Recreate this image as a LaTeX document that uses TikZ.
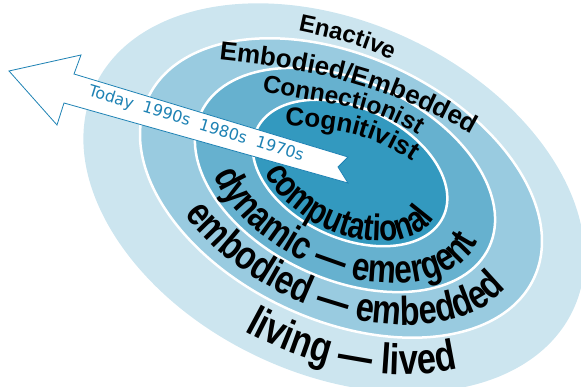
\documentclass[tikz,border=0pt]{standalone}
\usepackage{fontspec}
\setmainfont{Liberation Sans}
\newfontfamily\ringfont{Liberation Sans}[FakeStretch=0.8]
\newfontfamily\datefont{DejaVu Sans}
\usetikzlibrary{decorations.text}

\definecolor{enactive}{HTML}{CCE5EF}
\definecolor{embodied}{HTML}{99CBE0}
\definecolor{connect}{HTML}{66B1CF}
\definecolor{cognit}{HTML}{3399BF}
\definecolor{timeline}{HTML}{1E82B4}

\begin{document}
\begin{tikzpicture}[x=1pt,y=1pt]

	\tikzset{ring st/.style={fill=#1, draw=white, line width=2.5pt},
		upper text/.style 2 args={decorate, decoration={text along path,
				text={|\bfseries\fontsize{#1}{#1}\selectfont|#2}}},
		lower text/.style 2 args={decorate, decoration={text along path,
				text={|\ringfont\bfseries\fontsize{#1}{#1}\selectfont|#2}}}}

	\useasboundingbox (0,0) rectangle (581,387);
	\clip (0,0) rectangle (581,387);

	% the four rings, outside in
	\begin{scope}[shift={(334,189)}, rotate=-25]
		\fill[enactive] (0,0) ellipse [x radius=264, y radius=176];
	\end{scope}
	\begin{scope}[shift={(341,199)}, rotate=-25]
		\draw[ring st=embodied] (0,0) ellipse [x radius=213, y radius=132];
	\end{scope}
	\begin{scope}[shift={(345,207)}, rotate=-25]
		\draw[ring st=connect] (0,0) ellipse [x radius=159, y radius=99];
	\end{scope}
	\begin{scope}[shift={(350,214)}, rotate=-25]
		\draw[ring st=cognit] (0,0) ellipse [x radius=103, y radius=65];
	\end{scope}

	% time arrow
	\coordinate (tip) at (9,316);
	\coordinate (barb up) at (81,332);
	\coordinate (shaft up) at (74,313);
	\coordinate (tail up) at (348,230);
	\coordinate (notch) at (338,220);
	\coordinate (tail down) at (348,204);
	\coordinate (shaft down) at (64,284);
	\coordinate (barb down) at (57,262);
	\draw[timeline, fill=white, line width=0.8pt]
	(tip) -- (barb up) -- (shaft up) -- (tail up) -- (notch) -- (tail down)
	-- (shaft down) -- (barb down) -- cycle;
	\node[timeline, rotate=-17, font=\datefont\fontsize{16}{16}\selectfont]
	(dates) at (196,263) {Today~~1990s~~1980s~~1970s};

	% labels on the upper arcs
	\coordinate (enact a) at (298,356);
	\coordinate (enact b) at (402,322);
	\coordinate (embod a) at (219,327);
	\coordinate (embod b) at (480,248);
	\coordinate (conn a) at (262,296);
	\coordinate (conn b) at (436,239);
	\coordinate (cogn a) at (285,261);
	\coordinate (cogn b) at (418,222);
	\path[upper text={24}{Enactive}] (enact a) to[out=-12, in=153] (enact b);
	\path[upper text={26}{Embodied/Embedded}] (embod a) to[out=-6, in=150] (embod b);
	\path[upper text={24.5}{Connectionist}] (conn a) to[out=-12, in=142] (conn b);
	\path[upper text={26}{Cognitivist}] (cogn a) to[out=-2, in=145] (cogn b);

	% labels on the lower arcs
	\begin{scope}[shift={(350,214)}, rotate=-25]
		\path[lower text={37}{computational}]
		(216:95.8 and 60.5) arc [start angle=216, end angle=390, x radius=95.8, y radius=60.5];
	\end{scope}
	\begin{scope}[shift={(345,207)}, rotate=-25]
		\path[lower text={39.5}{dynamic — emergent}]
		(214:146.3 and 91.1) arc [start angle=214, end angle=380, x radius=146.3, y radius=91.1];
	\end{scope}
	\begin{scope}[shift={(341,199)}, rotate=-25]
		\path[lower text={40.5}{embodied — embedded}]
		(228:194.9 and 120.8) arc [start angle=228, end angle=370, x radius=194.9, y radius=120.8];
	\end{scope}
	\begin{scope}[shift={(334,189)}, rotate=-25]
		\path[lower text={43}{living — lived}]
		(264:240 and 159.3) arc [start angle=264, end angle=340, x radius=240, y radius=159.3];
	\end{scope}

\end{tikzpicture}
\end{document}
